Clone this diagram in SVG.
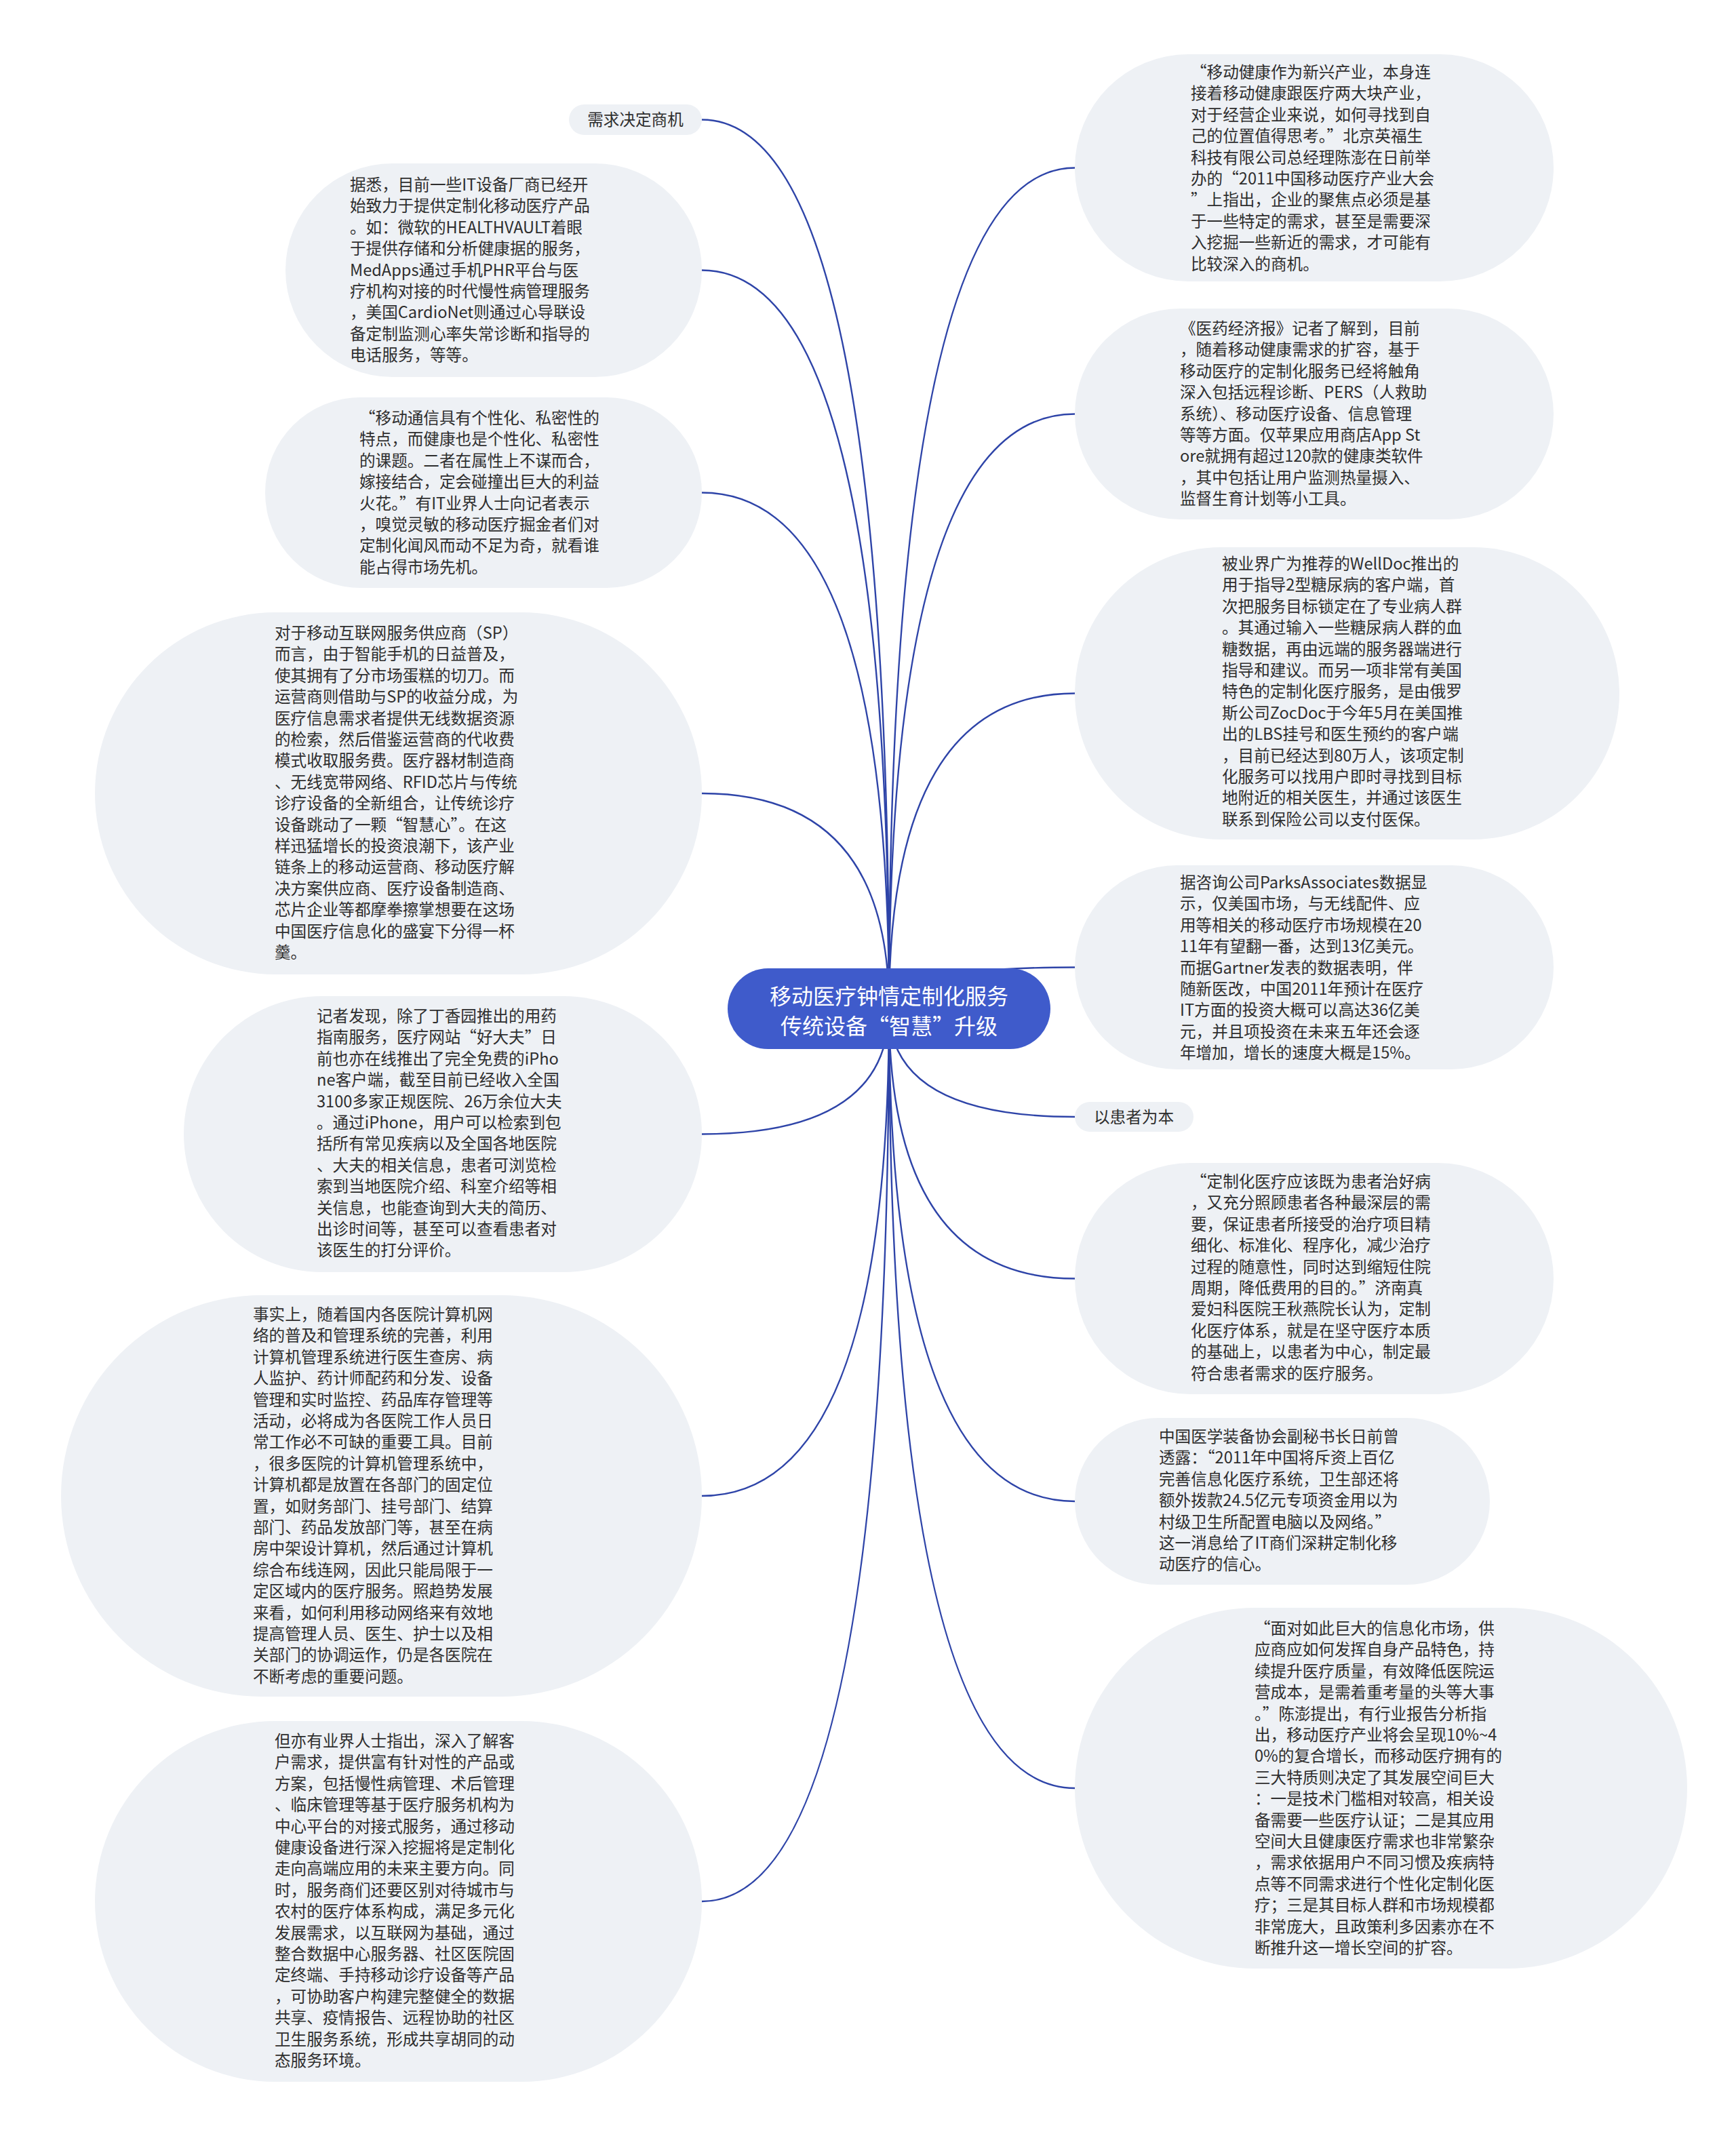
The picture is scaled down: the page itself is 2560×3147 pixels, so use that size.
<svg xmlns="http://www.w3.org/2000/svg" width="2560" height="3147" viewBox="0 0 2560 3147">
<defs>
<style>
.bg{fill:#ffffff}
.node{fill:#eef1f5}
.root{fill:#3f5bcb}
.t{font-family:"Noto Sans CJK SC","Noto Sans",sans-serif;font-size:23.6px;fill:#2e2e2e}
.rt{font-family:"Noto Sans CJK SC","Noto Sans",sans-serif;font-size:32px;fill:#ffffff;text-anchor:middle}
.c{text-anchor:middle}
.edge{fill:none;stroke:#2e44a8;stroke-width:2.4}
</style>
</defs>
<rect class="bg" x="0" y="0" width="2560" height="3147"/>
<g id="connectors">
<path class="edge" d="M1311 1487 Q1311 176.5 1035 176.5"/>
<path class="edge" d="M1311 1487 Q1311 398.5 1035 398.5"/>
<path class="edge" d="M1311 1487 Q1311 726.5 1035 726.5"/>
<path class="edge" d="M1311 1487 Q1311 1170 1035 1170"/>
<path class="edge" d="M1311 1487 Q1311 1672.5 1035 1672.5"/>
<path class="edge" d="M1311 1487 Q1311 2206 1035 2206"/>
<path class="edge" d="M1311 1487 Q1311 2804 1035 2804"/>
<path class="edge" d="M1311 1487 Q1311 247.5 1585 247.5"/>
<path class="edge" d="M1311 1487 Q1311 610.5 1585 610.5"/>
<path class="edge" d="M1311 1487 Q1311 1022.5 1585 1022.5"/>
<path class="edge" d="M1311 1487 Q1311 1426.5 1585 1426.5"/>
<path class="edge" d="M1311 1487 Q1311 1647 1585 1647"/>
<path class="edge" d="M1311 1487 Q1311 1885.5 1585 1885.5"/>
<path class="edge" d="M1311 1487 Q1311 2214 1585 2214"/>
<path class="edge" d="M1311 1487 Q1311 2637 1585 2637"/>
</g>
<g id="root">
<rect class="root" x="1073" y="1428" width="476" height="119" rx="59.5"/>
<text class="rt" x="1311" y="1481">移动医疗钟情定制化服务</text>
<text class="rt" x="1311" y="1525">传统设备“智慧”升级</text>
</g>
<g id="n-l1">
<rect class="node" x="839" y="154" width="196" height="45" rx="22.5"/>
<text class="t c" x="937" y="185">需求决定商机</text>
</g>
<g id="n-l2">
<rect class="node" x="421" y="241" width="614" height="315" rx="157.5"/>
<text class="t" y="281"><tspan x="516">据悉，目前一些IT设备厂商已经开</tspan><tspan x="516" dy="31.4">始致力于提供定制化移动医疗产品</tspan><tspan x="516" dy="31.4">。如：微软的HEALTHVAULT着眼</tspan><tspan x="516" dy="31.4">于提供存储和分析健康据的服务，</tspan><tspan x="516" dy="31.4">MedApps通过手机PHR平台与医</tspan><tspan x="516" dy="31.4">疗机构对接的时代慢性病管理服务</tspan><tspan x="516" dy="31.4">，美国CardioNet则通过心导联设</tspan><tspan x="516" dy="31.4">备定制监测心率失常诊断和指导的</tspan><tspan x="516" dy="31.4">电话服务，等等。</tspan></text>
</g>
<g id="n-l3">
<rect class="node" x="391" y="586" width="644" height="281" rx="140.5"/>
<text class="t" y="625"><tspan x="530">“移动通信具有个性化、私密性的</tspan><tspan x="530" dy="31.4">特点，而健康也是个性化、私密性</tspan><tspan x="530" dy="31.4">的课题。二者在属性上不谋而合，</tspan><tspan x="530" dy="31.4">嫁接结合，定会碰撞出巨大的利益</tspan><tspan x="530" dy="31.4">火花。”有IT业界人士向记者表示</tspan><tspan x="530" dy="31.4">，嗅觉灵敏的移动医疗掘金者们对</tspan><tspan x="530" dy="31.4">定制化闻风而动不足为奇，就看谁</tspan><tspan x="530" dy="31.4">能占得市场先机。</tspan></text>
</g>
<g id="n-l4">
<rect class="node" x="140" y="903" width="895" height="534" rx="267"/>
<text class="t" y="942"><tspan x="405">对于移动互联网服务供应商（SP）</tspan><tspan x="405" dy="31.4">而言，由于智能手机的日益普及，</tspan><tspan x="405" dy="31.4">使其拥有了分市场蛋糕的切刀。而</tspan><tspan x="405" dy="31.4">运营商则借助与SP的收益分成，为</tspan><tspan x="405" dy="31.4">医疗信息需求者提供无线数据资源</tspan><tspan x="405" dy="31.4">的检索，然后借鉴运营商的代收费</tspan><tspan x="405" dy="31.4">模式收取服务费。医疗器材制造商</tspan><tspan x="405" dy="31.4">、无线宽带网络、RFID芯片与传统</tspan><tspan x="405" dy="31.4">诊疗设备的全新组合，让传统诊疗</tspan><tspan x="405" dy="31.4">设备跳动了一颗“智慧心”。在这</tspan><tspan x="405" dy="31.4">样迅猛增长的投资浪潮下，该产业</tspan><tspan x="405" dy="31.4">链条上的移动运营商、移动医疗解</tspan><tspan x="405" dy="31.4">决方案供应商、医疗设备制造商、</tspan><tspan x="405" dy="31.4">芯片企业等都摩拳擦掌想要在这场</tspan><tspan x="405" dy="31.4">中国医疗信息化的盛宴下分得一杯</tspan><tspan x="405" dy="31.4">羹。</tspan></text>
</g>
<g id="n-l5">
<rect class="node" x="271" y="1469" width="764" height="407" rx="203.5"/>
<text class="t" y="1507"><tspan x="467">记者发现，除了丁香园推出的用药</tspan><tspan x="467" dy="31.4">指南服务，医疗网站“好大夫”日</tspan><tspan x="467" dy="31.4">前也亦在线推出了完全免费的iPho</tspan><tspan x="467" dy="31.4">ne客户端，截至目前已经收入全国</tspan><tspan x="467" dy="31.4">3100多家正规医院、26万余位大夫</tspan><tspan x="467" dy="31.4">。通过iPhone，用户可以检索到包</tspan><tspan x="467" dy="31.4">括所有常见疾病以及全国各地医院</tspan><tspan x="467" dy="31.4">、大夫的相关信息，患者可浏览检</tspan><tspan x="467" dy="31.4">索到当地医院介绍、科室介绍等相</tspan><tspan x="467" dy="31.4">关信息，也能查询到大夫的简历、</tspan><tspan x="467" dy="31.4">出诊时间等，甚至可以查看患者对</tspan><tspan x="467" dy="31.4">该医生的打分评价。</tspan></text>
</g>
<g id="n-l6">
<rect class="node" x="90" y="1910" width="945" height="592" rx="296"/>
<text class="t" y="1947"><tspan x="373">事实上，随着国内各医院计算机网</tspan><tspan x="373" dy="31.4">络的普及和管理系统的完善，利用</tspan><tspan x="373" dy="31.4">计算机管理系统进行医生查房、病</tspan><tspan x="373" dy="31.4">人监护、药计师配药和分发、设备</tspan><tspan x="373" dy="31.4">管理和实时监控、药品库存管理等</tspan><tspan x="373" dy="31.4">活动，必将成为各医院工作人员日</tspan><tspan x="373" dy="31.4">常工作必不可缺的重要工具。目前</tspan><tspan x="373" dy="31.4">，很多医院的计算机管理系统中，</tspan><tspan x="373" dy="31.4">计算机都是放置在各部门的固定位</tspan><tspan x="373" dy="31.4">置，如财务部门、挂号部门、结算</tspan><tspan x="373" dy="31.4">部门、药品发放部门等，甚至在病</tspan><tspan x="373" dy="31.4">房中架设计算机，然后通过计算机</tspan><tspan x="373" dy="31.4">综合布线连网，因此只能局限于一</tspan><tspan x="373" dy="31.4">定区域内的医疗服务。照趋势发展</tspan><tspan x="373" dy="31.4">来看，如何利用移动网络来有效地</tspan><tspan x="373" dy="31.4">提高管理人员、医生、护士以及相</tspan><tspan x="373" dy="31.4">关部门的协调运作，仍是各医院在</tspan><tspan x="373" dy="31.4">不断考虑的重要问题。</tspan></text>
</g>
<g id="n-l7">
<rect class="node" x="140" y="2538" width="895" height="532" rx="266"/>
<text class="t" y="2576"><tspan x="405">但亦有业界人士指出，深入了解客</tspan><tspan x="405" dy="31.4">户需求，提供富有针对性的产品或</tspan><tspan x="405" dy="31.4">方案，包括慢性病管理、术后管理</tspan><tspan x="405" dy="31.4">、临床管理等基于医疗服务机构为</tspan><tspan x="405" dy="31.4">中心平台的对接式服务，通过移动</tspan><tspan x="405" dy="31.4">健康设备进行深入挖掘将是定制化</tspan><tspan x="405" dy="31.4">走向高端应用的未来主要方向。同</tspan><tspan x="405" dy="31.4">时，服务商们还要区别对待城市与</tspan><tspan x="405" dy="31.4">农村的医疗体系构成，满足多元化</tspan><tspan x="405" dy="31.4">发展需求，以互联网为基础，通过</tspan><tspan x="405" dy="31.4">整合数据中心服务器、社区医院固</tspan><tspan x="405" dy="31.4">定终端、手持移动诊疗设备等产品</tspan><tspan x="405" dy="31.4">，可协助客户构建完整健全的数据</tspan><tspan x="405" dy="31.4">共享、疫情报告、远程协助的社区</tspan><tspan x="405" dy="31.4">卫生服务系统，形成共享胡同的动</tspan><tspan x="405" dy="31.4">态服务环境。</tspan></text>
</g>
<g id="n-r1">
<rect class="node" x="1585" y="80" width="706" height="335" rx="167.5"/>
<text class="t" y="115"><tspan x="1756">“移动健康作为新兴产业，本身连</tspan><tspan x="1756" dy="31.4">接着移动健康跟医疗两大块产业，</tspan><tspan x="1756" dy="31.4">对于经营企业来说，如何寻找到自</tspan><tspan x="1756" dy="31.4">己的位置值得思考。”北京英福生</tspan><tspan x="1756" dy="31.4">科技有限公司总经理陈澎在日前举</tspan><tspan x="1756" dy="31.4">办的“2011中国移动医疗产业大会</tspan><tspan x="1756" dy="31.4">”上指出，企业的聚焦点必须是基</tspan><tspan x="1756" dy="31.4">于一些特定的需求，甚至是需要深</tspan><tspan x="1756" dy="31.4">入挖掘一些新近的需求，才可能有</tspan><tspan x="1756" dy="31.4">比较深入的商机。</tspan></text>
</g>
<g id="n-r2">
<rect class="node" x="1585" y="455" width="706" height="311" rx="155.5"/>
<text class="t" y="493"><tspan x="1740">《医药经济报》记者了解到，目前</tspan><tspan x="1740" dy="31.4">，随着移动健康需求的扩容，基于</tspan><tspan x="1740" dy="31.4">移动医疗的定制化服务已经将触角</tspan><tspan x="1740" dy="31.4">深入包括远程诊断、PERS（人救助</tspan><tspan x="1740" dy="31.4">系统）、移动医疗设备、信息管理</tspan><tspan x="1740" dy="31.4">等等方面。仅苹果应用商店App St</tspan><tspan x="1740" dy="31.4">ore就拥有超过120款的健康类软件</tspan><tspan x="1740" dy="31.4">，其中包括让用户监测热量摄入、</tspan><tspan x="1740" dy="31.4">监督生育计划等小工具。</tspan></text>
</g>
<g id="n-r3">
<rect class="node" x="1585" y="807" width="803" height="431" rx="215.5"/>
<text class="t" y="840"><tspan x="1802">被业界广为推荐的WellDoc推出的</tspan><tspan x="1802" dy="31.4">用于指导2型糖尿病的客户端，首</tspan><tspan x="1802" dy="31.4">次把服务目标锁定在了专业病人群</tspan><tspan x="1802" dy="31.4">。其通过输入一些糖尿病人群的血</tspan><tspan x="1802" dy="31.4">糖数据，再由远端的服务器端进行</tspan><tspan x="1802" dy="31.4">指导和建议。而另一项非常有美国</tspan><tspan x="1802" dy="31.4">特色的定制化医疗服务，是由俄罗</tspan><tspan x="1802" dy="31.4">斯公司ZocDoc于今年5月在美国推</tspan><tspan x="1802" dy="31.4">出的LBS挂号和医生预约的客户端</tspan><tspan x="1802" dy="31.4">，目前已经达到80万人，该项定制</tspan><tspan x="1802" dy="31.4">化服务可以找用户即时寻找到目标</tspan><tspan x="1802" dy="31.4">地附近的相关医生，并通过该医生</tspan><tspan x="1802" dy="31.4">联系到保险公司以支付医保。</tspan></text>
</g>
<g id="n-r4">
<rect class="node" x="1585" y="1276" width="706" height="301" rx="150.5"/>
<text class="t" y="1310"><tspan x="1740">据咨询公司ParksAssociates数据显</tspan><tspan x="1740" dy="31.4">示，仅美国市场，与无线配件、应</tspan><tspan x="1740" dy="31.4">用等相关的移动医疗市场规模在20</tspan><tspan x="1740" dy="31.4">11年有望翻一番，达到13亿美元。</tspan><tspan x="1740" dy="31.4">而据Gartner发表的数据表明，伴</tspan><tspan x="1740" dy="31.4">随新医改，中国2011年预计在医疗</tspan><tspan x="1740" dy="31.4">IT方面的投资大概可以高达36亿美</tspan><tspan x="1740" dy="31.4">元，并且项投资在未来五年还会逐</tspan><tspan x="1740" dy="31.4">年增加，增长的速度大概是15%。</tspan></text>
</g>
<g id="n-r5">
<rect class="node" x="1585" y="1625" width="175" height="44" rx="22"/>
<text class="t c" x="1672" y="1656">以患者为本</text>
</g>
<g id="n-r6">
<rect class="node" x="1585" y="1715" width="706" height="341" rx="170.5"/>
<text class="t" y="1751"><tspan x="1756">“定制化医疗应该既为患者治好病</tspan><tspan x="1756" dy="31.4">，又充分照顾患者各种最深层的需</tspan><tspan x="1756" dy="31.4">要，保证患者所接受的治疗项目精</tspan><tspan x="1756" dy="31.4">细化、标准化、程序化，减少治疗</tspan><tspan x="1756" dy="31.4">过程的随意性，同时达到缩短住院</tspan><tspan x="1756" dy="31.4">周期，降低费用的目的。”济南真</tspan><tspan x="1756" dy="31.4">爱妇科医院王秋燕院长认为，定制</tspan><tspan x="1756" dy="31.4">化医疗体系，就是在坚守医疗本质</tspan><tspan x="1756" dy="31.4">的基础上，以患者为中心，制定最</tspan><tspan x="1756" dy="31.4">符合患者需求的医疗服务。</tspan></text>
</g>
<g id="n-r7">
<rect class="node" x="1585" y="2091" width="612" height="246" rx="123"/>
<text class="t" y="2127"><tspan x="1709">中国医学装备协会副秘书长日前曾</tspan><tspan x="1709" dy="31.4">透露：“2011年中国将斥资上百亿</tspan><tspan x="1709" dy="31.4">完善信息化医疗系统，卫生部还将</tspan><tspan x="1709" dy="31.4">额外拨款24.5亿元专项资金用以为</tspan><tspan x="1709" dy="31.4">村级卫生所配置电脑以及网络。”</tspan><tspan x="1709" dy="31.4">这一消息给了IT商们深耕定制化移</tspan><tspan x="1709" dy="31.4">动医疗的信心。</tspan></text>
</g>
<g id="n-r8">
<rect class="node" x="1585" y="2371" width="903" height="532" rx="266"/>
<text class="t" y="2410"><tspan x="1850">“面对如此巨大的信息化市场，供</tspan><tspan x="1850" dy="31.4">应商应如何发挥自身产品特色，持</tspan><tspan x="1850" dy="31.4">续提升医疗质量，有效降低医院运</tspan><tspan x="1850" dy="31.4">营成本，是需着重考量的头等大事</tspan><tspan x="1850" dy="31.4">。”陈澎提出，有行业报告分析指</tspan><tspan x="1850" dy="31.4">出，移动医疗产业将会呈现10%~4</tspan><tspan x="1850" dy="31.4">0%的复合增长，而移动医疗拥有的</tspan><tspan x="1850" dy="31.4">三大特质则决定了其发展空间巨大</tspan><tspan x="1850" dy="31.4">：一是技术门槛相对较高，相关设</tspan><tspan x="1850" dy="31.4">备需要一些医疗认证；二是其应用</tspan><tspan x="1850" dy="31.4">空间大且健康医疗需求也非常繁杂</tspan><tspan x="1850" dy="31.4">，需求依据用户不同习惯及疾病特</tspan><tspan x="1850" dy="31.4">点等不同需求进行个性化定制化医</tspan><tspan x="1850" dy="31.4">疗；三是其目标人群和市场规模都</tspan><tspan x="1850" dy="31.4">非常庞大，且政策利多因素亦在不</tspan><tspan x="1850" dy="31.4">断推升这一增长空间的扩容。</tspan></text>
</g>
</svg>
